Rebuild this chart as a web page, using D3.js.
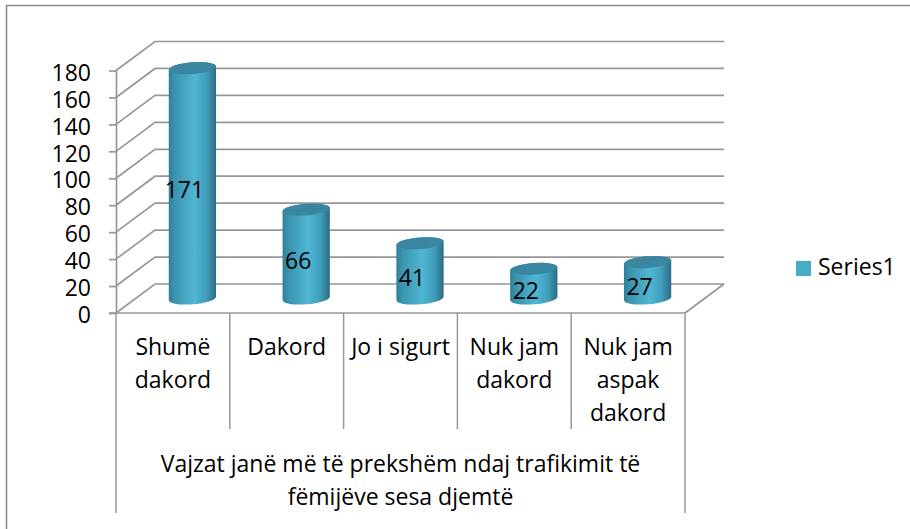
<!DOCTYPE html>
<html>
<head>
<meta charset="utf-8">
<script src="https://cdn.jsdelivr.net/npm/d3@7/dist/d3.min.js"></script>
<style>
html,body{margin:0;padding:0;background:#fff;overflow:hidden}
svg{display:block}
text{font-family:"Open Sans",sans-serif;fill:#000}
</style>
</head>
<body>
<svg id="chart" width="910" height="529"></svg>
<script>
const categories = [["Shumë","dakord"],["Dakord"],["Jo i sigurt"],["Nuk jam","dakord"],["Nuk jam","aspak","dakord"]];
const values = [171, 66, 41, 22, 27];
const yTicks = [0,20,40,60,80,100,120,140,160,180];
const groupLabel = ["Vajzat janë më të prekshëm ndaj trafikimit të","fëmijëve sesa djemtë"];
const seriesName = "Series1";

(function(){
const svg = d3.select("#chart");
const FS = 23, GRID = "#979797";
const x = d3.scaleBand().domain(d3.range(values.length)).range([116,685]);
const y = d3.scaleLinear().domain([0,180]).range([313,70.5]);
const dx = 39, dy = 29, rightEnd = 724;

// gradients
const defs = svg.append("defs");
const g = defs.append("linearGradient").attr("id","cyl").attr("x1",0).attr("x2",1).attr("y1",0).attr("y2",0);
[[0,"#2f7f99"],[.12,"#3a94ae"],[.55,"#4fb6d3"],[.8,"#3f9dba"],[1,"#2b6c85"]].forEach(s=>g.append("stop").attr("offset",s[0]).attr("stop-color",s[1]));

// outer frame
svg.append("path").attr("d","M6.5,529V5.5H910").attr("fill","none").attr("stroke","#868686").attr("stroke-width",1.5);

// walls and gridlines
const grid = svg.append("g").attr("fill","none").attr("stroke",GRID).attr("stroke-width",1.7);
grid.selectAll("path.g").data(yTicks).join("path").attr("class","g")
  .attr("d",d=>`M${x.range()[0]},${y(d)}L${x.range()[0]+dx},${y(d)-dy}H${rightEnd}`);
grid.append("path").attr("d",`M${rightEnd},${y(0)-dy}L${x.range()[1]},${y(0)}`);

// y axis
const yAxis = d3.axisLeft(y).tickValues(yTicks).tickSize(7).tickSizeOuter(0).tickPadding(18);
const ya = svg.append("g").attr("transform",`translate(${x.range()[0]},0)`).call(yAxis);
ya.select(".domain").attr("stroke",GRID).attr("stroke-width",1.7);
ya.selectAll(".tick line").attr("stroke",GRID).attr("stroke-width",1.7);
ya.selectAll(".tick text").attr("font-size",FS).attr("font-family",'"Open Sans",sans-serif').attr("fill","#000").attr("dy","0.42em");

// category axis
const L = x.range()[0], R = x.range()[1], y0 = y(0);
svg.append("line").attr("x1",L-7).attr("x2",R).attr("y1",y0).attr("y2",y0).attr("stroke",GRID).attr("stroke-width",1.7);
svg.selectAll("line.sep").data(d3.range(1,values.length)).join("line").attr("class","sep")
  .attr("x1",d=>x(d)).attr("x2",d=>x(d)).attr("y1",y0).attr("y2",429).attr("stroke",GRID).attr("stroke-width",1.5);
svg.selectAll("line.outer").data([L,R]).join("line").attr("class","outer")
  .attr("x1",d=>d).attr("x2",d=>d).attr("y1",y0).attr("y2",513).attr("stroke",GRID).attr("stroke-width",1.5);

// cylinders
const rx = 23.7, ry = 5.8, rot = -4.5, t = rot*Math.PI/180;
const ox = rx*Math.cos(t), oy = rx*Math.sin(t);
const cx = i => x(i)+x.bandwidth()/2+dx/2;
const by = y0-dy/2;
const topY = v => by-(y0-y(v));
const bars = svg.selectAll("g.bar").data(values).join("g").attr("class","bar");
bars.append("path").attr("fill","url(#cyl)")
  .attr("d",(v,i)=>{
    const c=cx(i), yt=topY(v);
    return `M${c-ox},${yt-oy}L${c-ox},${by-oy}A${rx},${ry} ${rot} 0 0 ${c+ox},${by+oy}L${c+ox},${yt+oy}A${rx},${ry} ${rot} 0 0 ${c-ox},${yt-oy}Z`;
  });
bars.append("ellipse").attr("fill","#3a86a0")
  .attr("cx",(v,i)=>cx(i)).attr("cy",v=>topY(v)).attr("rx",rx).attr("ry",ry)
  .attr("transform",(v,i)=>`rotate(${rot} ${cx(i)} ${topY(v)})`);

// value labels
svg.selectAll("text.val").data(values).join("text").attr("class","val")
  .attr("x",(v,i)=>x(i)+x.bandwidth()/2+11.5).attr("y",v=>y(v/2)+0.5)
  .attr("text-anchor","middle").attr("font-size",FS).text(v=>v);

// category labels
const cat = svg.selectAll("text.cat").data(categories).join("text").attr("class","cat")
  .attr("text-anchor","middle").attr("font-size",FS);
cat.selectAll("tspan").data((d,i)=>d.map((s,j)=>({s,j,i}))).join("tspan")
  .attr("x",d=>x(d.i)+x.bandwidth()/2).attr("y",d=>354.5+d.j*33).text(d=>d.s);

// group label
svg.selectAll("text.grp").data(groupLabel).join("text").attr("class","grp")
  .attr("x",(L+R)/2).attr("y",(d,i)=>472+i*33).attr("text-anchor","middle").attr("font-size",FS).text(d=>d);

// legend
svg.append("rect").attr("x",796).attr("y",261).attr("width",15).attr("height",15).attr("fill","#47acc6");
svg.append("text").attr("x",818).attr("y",275).attr("font-size",FS).text(seriesName);
})();
</script>
</body>
</html>
